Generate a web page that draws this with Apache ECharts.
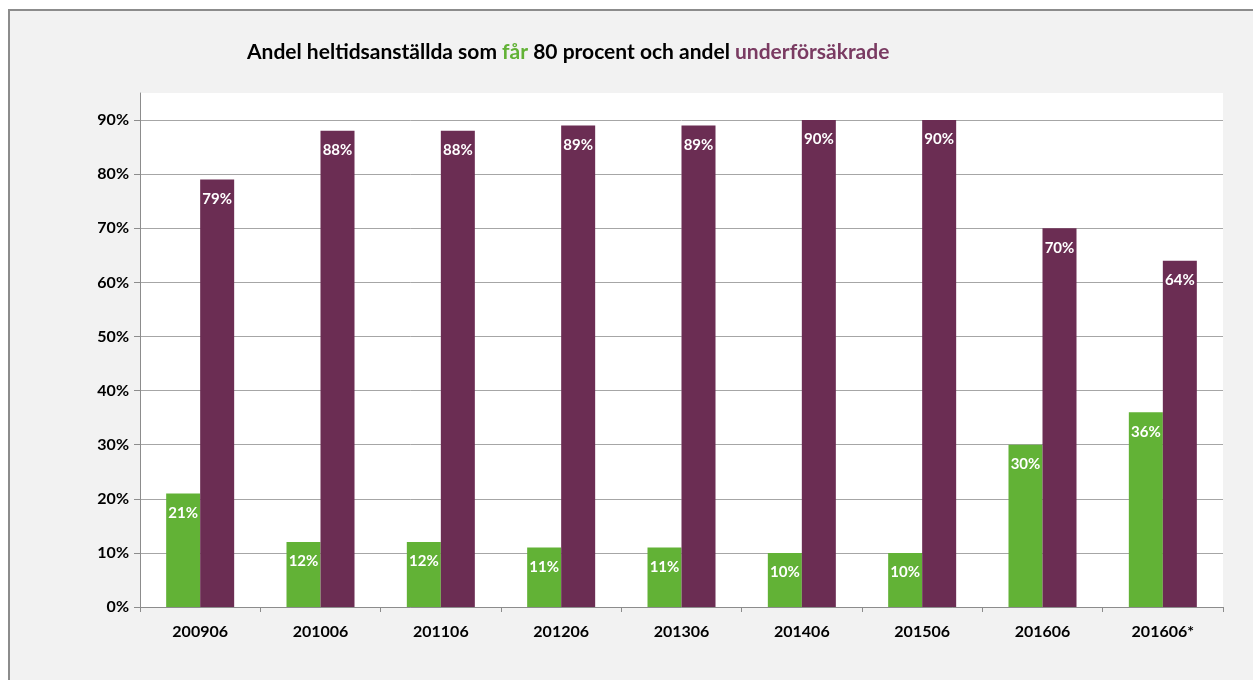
<!DOCTYPE html>
<html>
<head>
<meta charset="utf-8">
<script src="https://cdn.jsdelivr.net/npm/echarts@6/dist/echarts.min.js"></script>
<style>
  html, body { margin: 0; padding: 0; background: #ffffff; overflow: hidden; }
  #box { position: absolute; left: 8px; top: 9px; width: 1260px; height: 690px; border: 2px solid #8c8c8c; background: #f2f2f2; }
  #chart { position: absolute; left: 0; top: 0; width: 1253px; height: 680px; }
</style>
</head>
<body>
<div id="box"></div>
<div id="chart"></div>
<script>
// periods on the x axis
var categories = ['200906', '201006', '201106', '201206', '201306', '201406', '201506', '201606', '201606*'];
// share of full-time employees getting 80 percent
var far80 = [0.21, 0.12, 0.12, 0.11, 0.11, 0.10, 0.10, 0.30, 0.36];
// share underinsured
var underforsakrade = [0.79, 0.88, 0.88, 0.89, 0.89, 0.90, 0.90, 0.70, 0.64];

var FONT = 'Lato, "Open Sans", sans-serif';

function pct(v) {
  return Math.round(v * 100) + '%';
}

var chart = echarts.init(document.getElementById('chart'));

var labelStyle = {
  show: true,
  position: 'insideTop',
  distance: 12,
  color: '#ffffff',
  fontFamily: FONT,
  fontWeight: 'bold',
  fontSize: 15,
  formatter: function (p) { return pct(p.value); }
};

var option = {
  animation: false,
  title: {
    left: 242,
    top: 37,
    text: '{a|Andel heltidsanställda som }{g|får}{a| 80 procent och andel }{p|underförsäkrade}',
    textStyle: {
      rich: {
        a: { color: '#000000', fontFamily: FONT, fontWeight: 'bold', fontSize: 21 },
        g: { color: '#62b236', fontFamily: FONT, fontWeight: 'bold', fontSize: 21 },
        p: { color: '#7a3b62', fontFamily: FONT, fontWeight: 'bold', fontSize: 21 }
      }
    }
  },
  grid: {
    left: 140,
    right: 30,
    top: 93,
    bottom: 73,
    show: true,
    backgroundColor: '#ffffff',
    borderWidth: 0
  },
  xAxis: {
    type: 'category',
    data: categories,
    axisLine: { lineStyle: { color: '#8c8c8c', width: 1 } },
    axisTick: { show: true, length: 5, lineStyle: { color: '#8c8c8c' } },
    axisLabel: {
      color: '#000000',
      fontFamily: FONT,
      fontWeight: 'bold',
      fontSize: 16,
      margin: 17
    }
  },
  yAxis: {
    type: 'value',
    min: 0,
    max: 0.95,
    interval: 0.1,
    axisLine: { show: true, lineStyle: { color: '#8c8c8c', width: 1 } },
    axisTick: { show: true, length: 6, lineStyle: { color: '#8c8c8c' } },
    axisLabel: {
      color: '#000000',
      fontFamily: FONT,
      fontWeight: 'bold',
      fontSize: 16,
      margin: 11,
      showMaxLabel: false,
      formatter: function (v) { return v > 0.91 ? '' : pct(v); }
    },
    splitLine: { show: true, showMaxLine: false, lineStyle: { color: '#a6a6a6', width: 1 } }
  },
  series: [
    {
      name: 'får 80 procent',
      type: 'bar',
      data: far80,
      barWidth: 34,
      barGap: '0%',
      itemStyle: { color: '#62b236' },
      label: labelStyle
    },
    {
      name: 'underförsäkrade',
      type: 'bar',
      data: underforsakrade,
      barWidth: 34,
      barGap: '0%',
      itemStyle: { color: '#6b2d53' },
      label: labelStyle
    }
  ]
};

chart.setOption(option);
</script>
</body>
</html>
